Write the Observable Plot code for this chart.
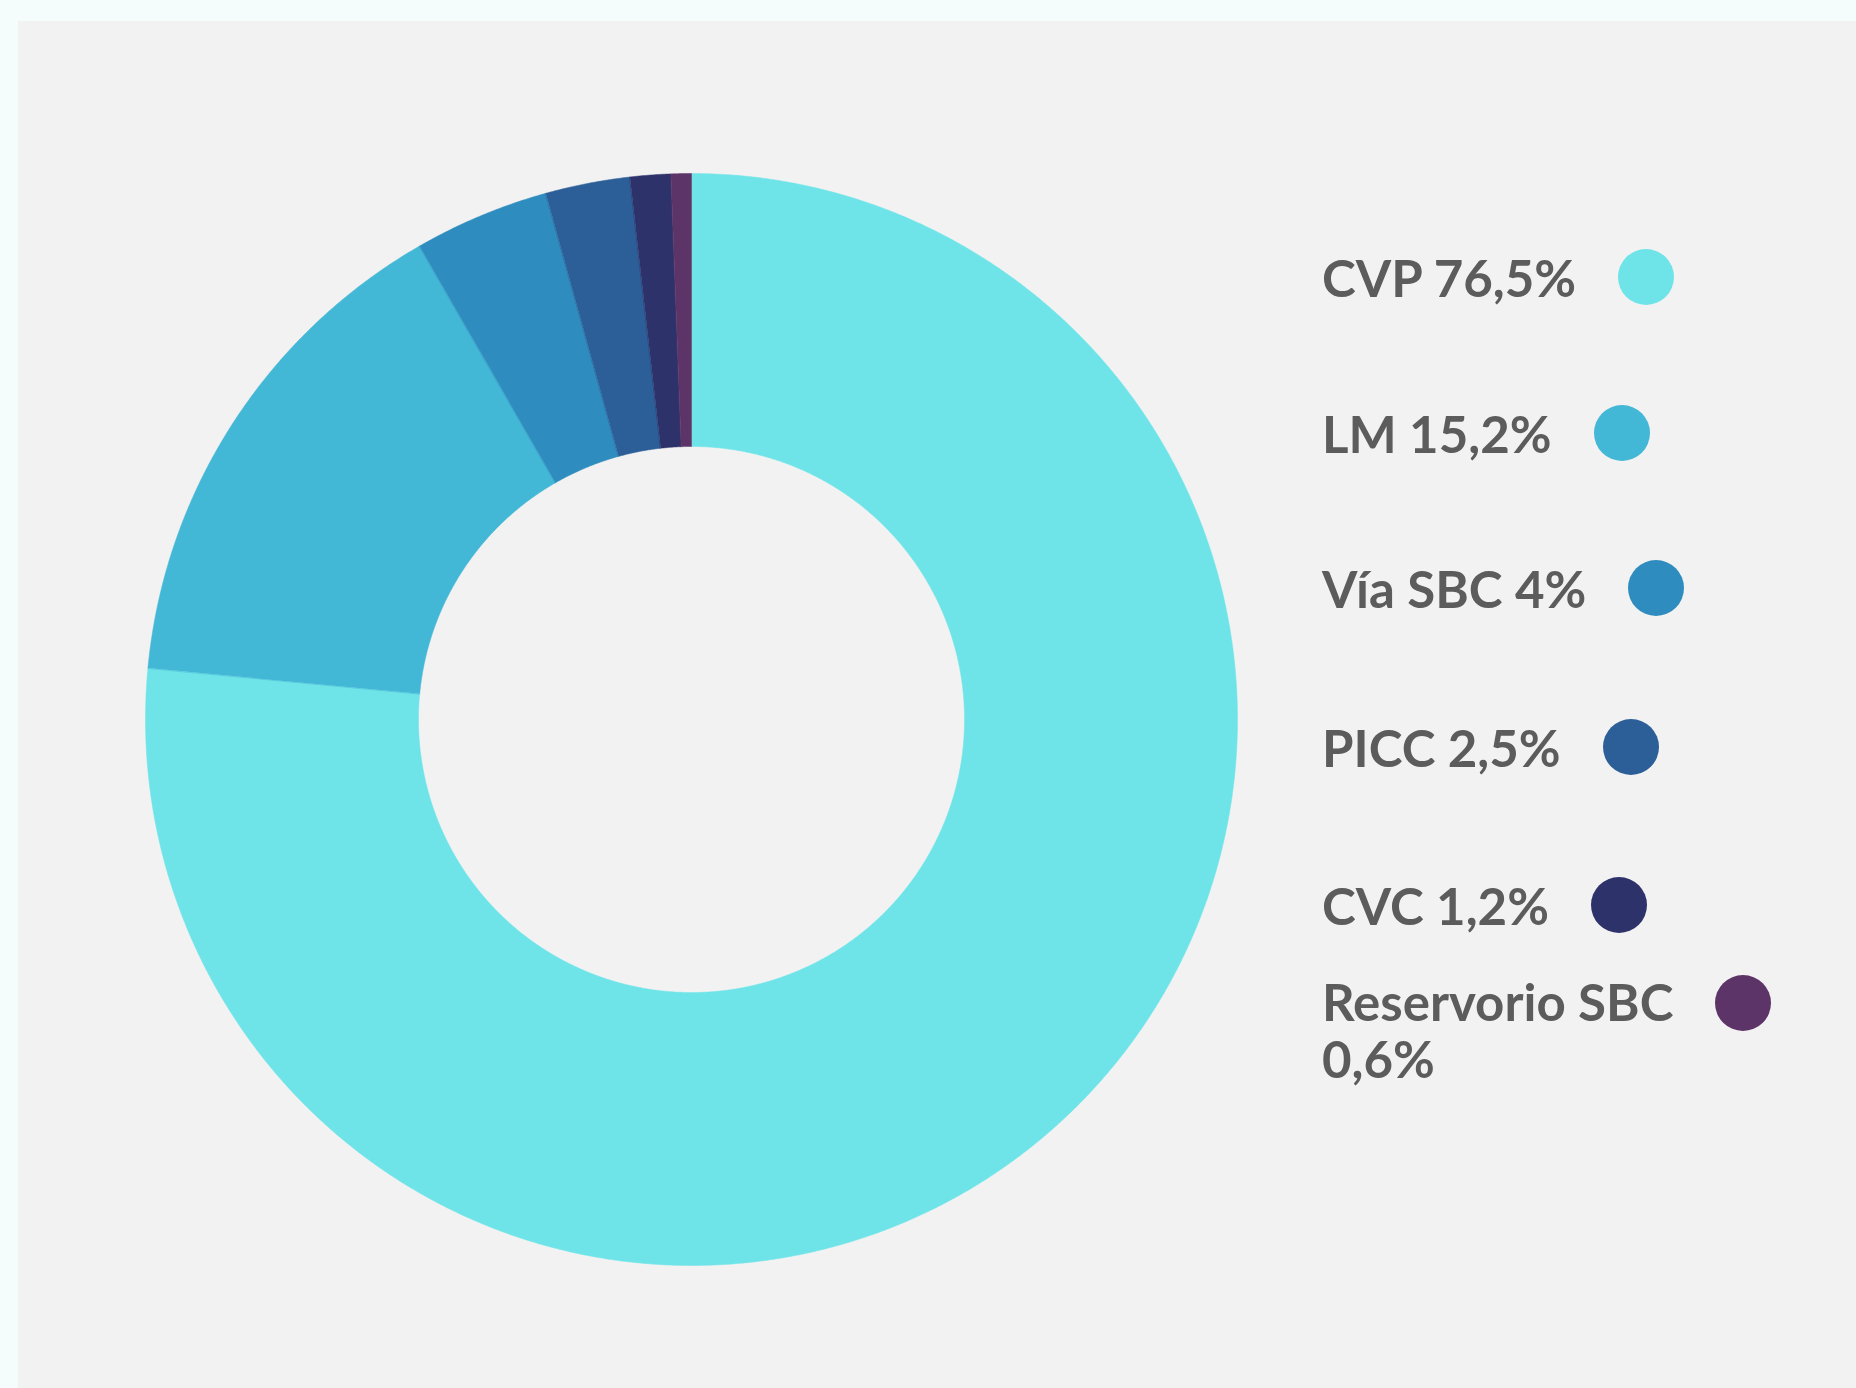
<!DOCTYPE html>
<html>
<head>
<meta charset="utf-8">
<script src="https://cdn.jsdelivr.net/npm/d3@7"></script>
<script src="https://cdn.jsdelivr.net/npm/@observablehq/plot@0.6"></script>
<style>
  html, body { margin: 0; padding: 0; width: 1856px; height: 1388px; overflow: hidden; background: #f5fcfc; }
  #panel { position: absolute; left: 18px; top: 21px; right: 0; bottom: 0; background: #f2f2f2; }
  #chart { position: absolute; left: 0; top: 0; }
  #chart svg { background: transparent; display: block; }
  .row { position: absolute; left: 1322px; display: flex; align-items: flex-start;
         font-family: Lato, "Open Sans", sans-serif; font-weight: 700; font-size: 51px;
         line-height: 61px; color: #5c5c5c; white-space: nowrap; }
  .row .lbl { white-space: pre; }
  .row .dot { width: 56px; height: 56px; border-radius: 50%; margin-left: 42px; margin-top: 2px; flex: none; }
</style>
</head>
<body>
<div id="panel"></div>
<div id="chart"></div>
<div id="legend"></div>
<script>
// ---- data ----
const categories = ["CVP", "LM", "Vía SBC", "PICC", "CVC", "Reservorio SBC"];
const values = [76.5, 15.2, 4, 2.5, 1.2, 0.6];
const colors = ["#6ee4e8", "#43b7d6", "#2e8cbe", "#2c5f98", "#2e326b", "#5d3467"];
const labels = ["CVP 76,5%", "LM 15,2%", "Vía SBC 4%", "PICC 2,5%", "CVC 1,2%", "Reservorio SBC\n0,6%"];

// ---- slice polygons (angles clockwise from 12 o'clock) ----
const total = d3.sum(values);
const inner = 0.5, outer = 1;
const pts = [];
let acc = 0;
categories.forEach((name, i) => {
  const a0 = acc / total * 2 * Math.PI;
  acc += values[i];
  const a1 = acc / total * 2 * Math.PI;
  const n = Math.max(4, Math.ceil((a1 - a0) / (Math.PI / 720)));
  for (let k = 0; k <= n; k++) {
    const a = a0 + (a1 - a0) * k / n;
    pts.push({name, x: outer * Math.sin(a), y: outer * Math.cos(a)});
  }
  for (let k = n; k >= 0; k--) {
    const a = a0 + (a1 - a0) * k / n;
    pts.push({name, x: inner * Math.sin(a), y: inner * Math.cos(a)});
  }
});

const cx = 691, cy = 719, R = 546;
const plot = Plot.plot({
  width: 1856,
  height: 1388,
  margin: 0,
  x: {domain: [-1, 1], range: [cx - R, cx + R], axis: null},
  y: {domain: [-1, 1], range: [cy + R, cy - R], axis: null},
  color: {domain: categories, range: colors},
  marks: [
    Plot.line(pts, {x: "x", y: "y", z: "name", fill: "name", stroke: "name", strokeWidth: 0.5, curve: "linear-closed"})
  ]
});
document.getElementById("chart").appendChild(plot);

// ---- legend ----
const tops = [247, 403, 558, 717, 875, 973];
const legend = document.getElementById("legend");
categories.forEach((name, i) => {
  const row = document.createElement("div");
  row.className = "row";
  row.style.top = tops[i] + "px";
  if (labels[i].includes("\n")) row.style.lineHeight = "57px";
  const lbl = document.createElement("span");
  lbl.className = "lbl";
  lbl.textContent = labels[i];
  const dot = document.createElement("div");
  dot.className = "dot";
  dot.style.background = colors[i];
  row.appendChild(lbl);
  row.appendChild(dot);
  legend.appendChild(row);
});
</script>
</body>
</html>
